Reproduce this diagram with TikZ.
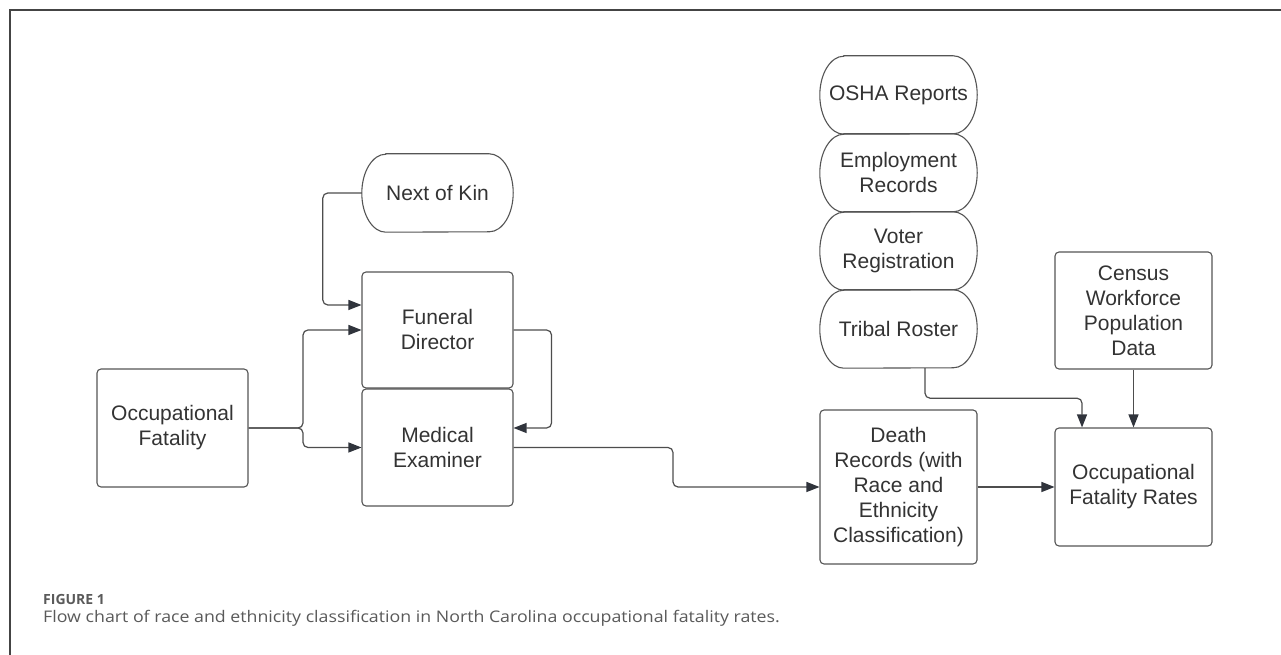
\documentclass[tikz,border=0pt]{standalone}
\usepackage{fontspec}
\setmainfont{Liberation Sans}
\newfontfamily\capfont{Open Sans}
\newfontfamily\capwide[FakeStretch=1.11]{Open Sans}
\usetikzlibrary{arrows.meta}
\definecolor{boxc}{HTML}{555555}
\definecolor{txt}{HTML}{333333}
\definecolor{linec}{HTML}{4D4D4D}
\definecolor{arrc}{HTML}{30343C}
\definecolor{framec}{HTML}{444444}
\definecolor{capc}{HTML}{5A5A5A}
\newcommand\termoutline[1]{%
  \draw[termline] ([xshift=24pt]#1.north west) -- ([xshift=-24pt]#1.north east)
    arc[start angle=90,end angle=-90,x radius=24pt,y radius=39pt]
    -- ([xshift=24pt]#1.south west)
    arc[start angle=270,end angle=90,x radius=24pt,y radius=39pt] -- cycle;}
\begin{document}
\begin{tikzpicture}[x=1pt,y=1pt,
  lbl/.style={align=center,text=txt,font=\fontsize{21}{25}\selectfont,inner sep=0pt},
  box/.style={lbl,draw=boxc,line width=1.1pt,rounded corners=4pt},
  term/.style={lbl,minimum width=157pt,minimum height=78pt},
  termline/.style={draw=boxc,line width=1.1pt},
  conn/.style={draw=linec,line width=1.2pt,rounded corners=5pt,
    -{Triangle[length=13pt,width=10pt,color=arrc]}}]
\fill[white] (0,0) rectangle (1281,655);
\useasboundingbox (0,0) rectangle (1281,655);
\draw[framec,line width=1.5pt] (10,0) -- (10,645) -- (1281,645);

% nodes
\node[box,minimum width=151pt,minimum height=118pt] (of) at (172.5,227) {Occupational\\Fatality};
\node[term,minimum width=151pt] (nok) at (437.5,462) {Next of Kin};
\node[box,minimum width=151pt,minimum height=116pt] (fd) at (437.5,325) {Funeral\\Director};
\node[box,minimum width=151pt,minimum height=117pt] (me) at (437.5,207.5) {Medical\\Examiner};
\node[term] (osha) at (898.5,560) {OSHA Reports};
\node[term] (emp) at (898.5,482) {Employment\\Records};
\node[term] (vot) at (898.5,404) {Voter\\Registration};
\node[term] (tri) at (898.5,326) {Tribal Roster};
\node[box,minimum width=157pt,minimum height=117pt] (cen) at (1133.5,344.5) {Census\\Workforce\\Population\\Data};
\node[box,minimum width=157pt,minimum height=154pt] (dr) at (898.5,168) {Death\\Records (with\\Race and\\Ethnicity\\Classification)};
\node[box,minimum width=157pt,minimum height=118pt] (ofr) at (1133.5,168) {Occupational\\Fatality Rates};

\termoutline{nok}
\termoutline{osha}
\termoutline{emp}
\termoutline{vot}
\termoutline{tri}

% connectors
\draw[conn] (of.east) -- (303,227) |- (fd.west);
\draw[conn] (of.east) -- (303,227) |- (me.west);
\draw[conn] (nok.west) -- ++(-39,0) |- ([yshift=25pt]fd.west);
\draw[conn] (fd.east) -- ++(38,0) |- ([yshift=19.5pt]me.east);
\draw[conn] (me.east) -- (673,207.5) |- (dr.west);
\draw[conn] ([xshift=26.5pt]tri.south) -- ++(0,-30) -| ([xshift=-51.5pt]ofr.north);
\draw[conn] (cen.south) -- (ofr.north);
\draw[conn] (dr.east) -- (ofr.west);

% caption
\node[anchor=base west,inner sep=0pt,text=capc,font=\capfont\bfseries\fontsize{14}{16}\selectfont] (fig) at (43,50) {FIGURE 1};
\node[anchor=base west,inner sep=0pt,text=capc,font=\capwide\fontsize{16}{19}\selectfont] (cap) at (43,32) {Flow chart of race and ethnicity classification in North Carolina occupational fatality rates.};
\end{tikzpicture}
\end{document}
